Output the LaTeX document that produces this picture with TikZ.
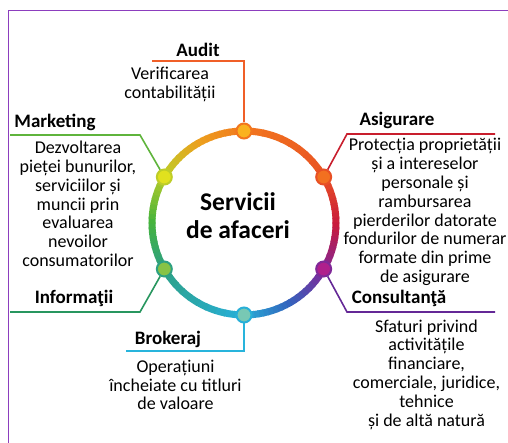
\documentclass[tikz,border=0pt]{standalone}
\usepackage{fontspec}
\setmainfont{Carlito}
\usetikzlibrary{calc}

% ring and connector colours
\definecolor{ringA}{RGB}{242,118,30}
\definecolor{ringB}{RGB}{232,80,36}
\definecolor{ringC}{RGB}{200,25,60}
\definecolor{ringD}{RGB}{128,40,152}
\definecolor{ringE}{RGB}{50,100,190}
\definecolor{ringF}{RGB}{40,175,215}
\definecolor{ringG}{RGB}{45,160,130}
\definecolor{ringH}{RGB}{70,180,60}
\definecolor{ringI}{RGB}{190,205,40}
\definecolor{ringJ}{RGB}{236,160,30}
\definecolor{frameC}{RGB}{140,62,190}
\definecolor{auditC}{RGB}{240,95,40}
\definecolor{asigC}{RGB}{200,30,45}
\definecolor{consC}{RGB}{100,40,150}
\definecolor{brokC}{RGB}{40,180,220}
\definecolor{infoC}{RGB}{40,150,95}
\definecolor{markC}{RGB}{95,180,60}

\begin{document}
\begin{tikzpicture}[
  x=1pt,y=1pt,
  ring/.style={line width=7pt},
  dot/.style={circle,minimum size=15pt,inner sep=0pt,line width=2pt},
  link/.style={line width=1.6pt},
  head/.style={font=\fontsize{19}{20}\selectfont\bfseries,inner sep=0pt},
  body/.style={font=\fontsize{18}{18.8}\selectfont,align=center,inner sep=0pt}
]
\useasboundingbox (0,0) rectangle (508,443);
\draw[frameC,line width=1.2pt] (8.3,0) -- (8.3,432.5) -- (508,432.5);

\coordinate (ctr) at (244,220);

% coloured ring, drawn in small pieces
\foreach \a/\b/\ca/\cb in {90/30/ringA/ringB,30/0/ringB/ringC,0/-30/ringC/ringD,
    -30/-60/ringD/ringE,-60/-90/ringE/ringF,-90/-150/ringF/ringG,-150/-180/ringG/ringH,
    -180/-210/ringH/ringI,-210/-240/ringI/ringJ,-240/-270/ringJ/ringA}{
  \foreach \k in {0,...,9}{
    \pgfmathtruncatemacro\p{100-\k*10}
    \pgfmathsetmacro\s{\a+(\b-\a)*\k/10+0.4}
    \pgfmathsetmacro\e{\a+(\b-\a)*(\k+1)/10-0.4}
    \draw[ring,color=\ca!\p!\cb] ($(ctr)+(\s:92)$) arc[start angle=\s,end angle=\e,radius=92];
  }
}

\node[body,font=\fontsize{25.5}{28}\selectfont\bfseries] (title) at (238,227) {Servicii\\de afaceri};

% bends and ends of the connectors
\coordinate (bAudit) at (244,382);  \coordinate (eAudit) at (152,382);
\coordinate (bAsig) at (347,309);   \coordinate (eAsig) at (495,309);
\coordinate (bCons) at (347,131);   \coordinate (eCons) at (495,131);
\coordinate (bBrok) at (244,92);    \coordinate (eBrok) at (126,92);
\coordinate (bInfo) at (140,131);   \coordinate (eInfo) at (10,131);
\coordinate (bMark) at (140,308);   \coordinate (eMark) at (10,308);

\node[dot,fill={rgb,255:red,250;green,178;blue,30},draw=ringA] (dAudit) at ($(ctr)+(90:92)$) {};
\node[dot,fill={rgb,255:red,242;green,112;blue,32},draw=ringB] (dAsig) at ($(ctr)+(30:92)$) {};
\node[dot,fill={rgb,255:red,175;green,32;blue,140},draw=ringD] (dCons) at ($(ctr)+(-30:92)$) {};
\node[dot,fill={rgb,255:red,120;green,200;blue,180},draw=ringF] (dBrok) at ($(ctr)+(-90:92)$) {};
\node[dot,fill={rgb,255:red,135;green,195;blue,70},draw=ringG] (dInfo) at ($(ctr)+(210:92)$) {};
\node[dot,fill={rgb,255:red,225;green,225;blue,30},draw=ringI] (dMark) at ($(ctr)+(150:92)$) {};

\draw[link,auditC] (dAudit) -- (bAudit) -- (eAudit);
\draw[link,asigC] (dAsig) -- (bAsig) -- (eAsig);
\draw[link,consC] (dCons) -- (bCons) -- (eCons);
\draw[link,brokC] (dBrok) -- (bBrok) -- (eBrok);
\draw[link,infoC] (dInfo) -- (bInfo) -- (eInfo);
\draw[link,markC] (dMark) -- (bMark) -- (eMark);

\node[head] (hAudit) at (198,393) {Audit};
\node[body] (tAudit) at (170,358.5) {Verificarea\\contabilității};
\node[head] (hMark) at (55,321) {Marketing};
\node[body] (tMark) at (78,239) {Dezvoltarea\\pieței bunurilor,\\serviciilor și\\muncii prin\\evaluarea\\nevoilor\\consumatorilor};
\node[head] (hInfo) at (74,145) {Informaţii};
\node[head] (hAsig) at (397,323) {Asigurare};
\node[body] (tAsig) at (425,231) {Protecția proprietății\\și a intereselor\\personale și\\rambursarea\\pierderilor datorate\\fondurilor de numerar\\formate din prime\\de asigurare};
\node[head] (hCons) at (399,145) {Consultanţă};
\node[body] (tCons) at (426.5,68.5) {Sfaturi privind\\activitățile\\financiare,\\comerciale, juridice,\\tehnice\\și de altă natură};
\node[head] (hBrok) at (168,104) {Brokeraj};
\node[body] (tBrok) at (175.5,58) {Operațiuni\\încheiate cu titluri\\de valoare};
\end{tikzpicture}
\end{document}
